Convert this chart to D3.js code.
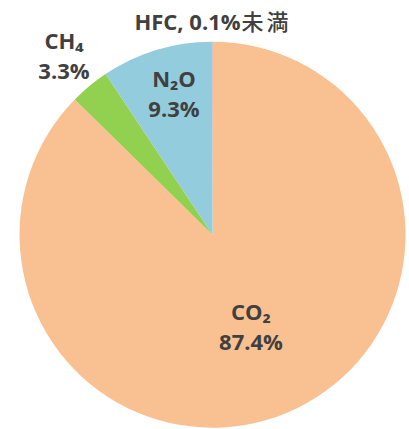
<!DOCTYPE html>
<html>
<head>
<meta charset="utf-8">
<script src="https://cdn.jsdelivr.net/npm/d3@7"></script>
<style>
  html, body { margin: 0; padding: 0; background: #fff; }
  svg text { font-family: "Open Sans", "Noto Sans CJK JP", sans-serif; font-weight: 700; fill: #404040; }
  svg text .cjk { font-weight: 500; letter-spacing: 3px; }
</style>
</head>
<body>
<svg id="chart" width="409" height="429"></svg>
<script>
// Greenhouse gas shares (%), clockwise from 12 o'clock
const gases = ["CO₂", "CH₄", "N₂O", "HFC"];
const shares = [87.4, 3.3, 9.3, 0.05];
const shareLabels = ["87.4%", "3.3%", "9.3%", "0.1%"];
const shareNotes = ["", "", "", "未満"];
const colors = ["#F9C191", "#92D050", "#92CCDD", "#B3A2C7"];

const svg = d3.select("#chart");
const cx = 212.5, cy = 234.7, radius = 193;

const pie = d3.pie().sort(null).value(d => d)(shares);
const arc = d3.arc().innerRadius(0).outerRadius(radius);

const g = svg.append("g").attr("transform", `translate(${cx},${cy})`);
g.selectAll("path")
  .data(pie)
  .join("path")
  .attr("d", arc)
  .attr("fill", (d, i) => colors[i]);

// Label anchor points (absolute centre x, first baseline y), one per gas
const labelPos = [
  { x: 251, y: 320, two: true },
  { x: 64, y: 48.5, two: true },
  { x: 174, y: 86.7, two: true },
  { x: 213, y: 30, two: false }
];
const lineGap = 30;

gases.forEach((name, i) => {
  const p = labelPos[i];
  const t = svg.append("text")
    .attr("x", p.x).attr("y", p.y)
    .attr("text-anchor", "middle")
    .style("font-size", "22px");
  if (p.two) {
    t.append("tspan").attr("x", p.x).attr("y", p.y).text(name);
    t.append("tspan").attr("x", p.x).attr("y", p.y + lineGap).text(shareLabels[i] + shareNotes[i]);
  } else {
    t.append("tspan").text(`${name}, ${shareLabels[i]}`);
    t.append("tspan").attr("class", "cjk").attr("dx", 1).text(shareNotes[i]);
  }
});
</script>
</body>
</html>
